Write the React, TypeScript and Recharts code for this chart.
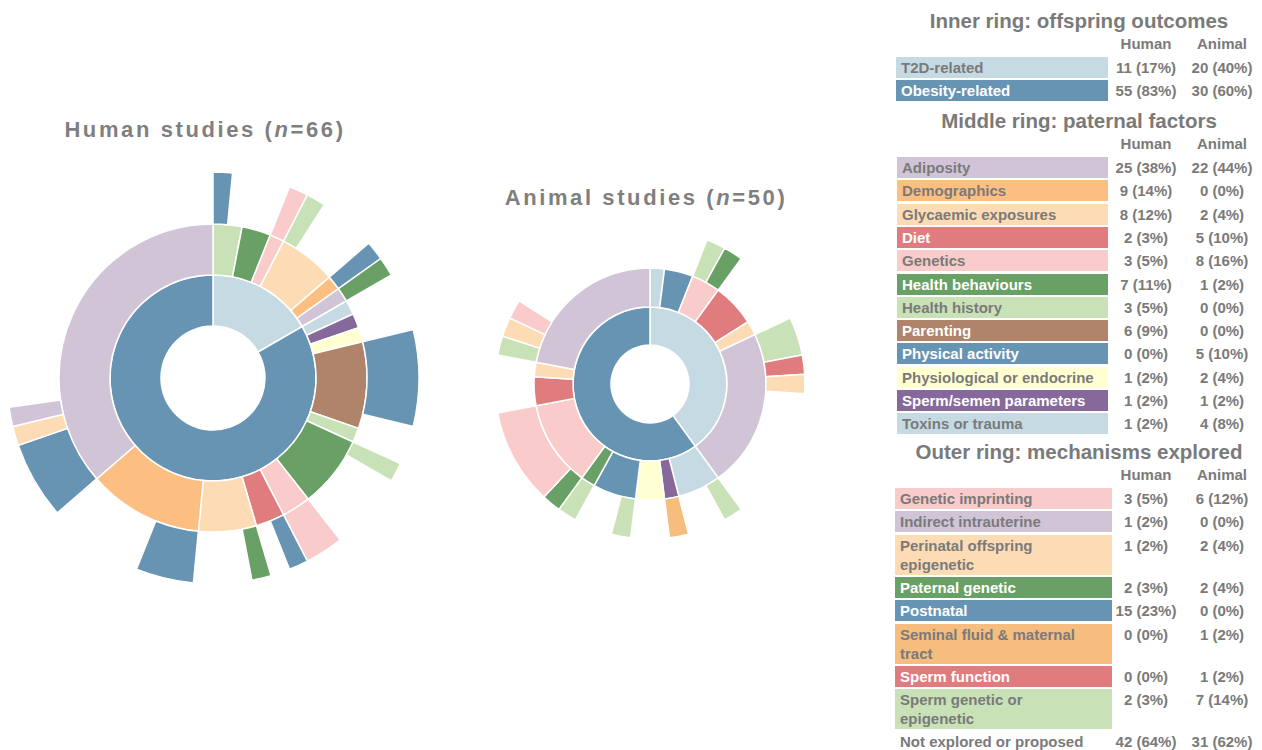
import React from 'react';
import { PieChart, Pie, Cell } from 'recharts';

// colours shared by sunburst rings and legend bars
const COLORS: Record<string, string> = {
    'T2D-related': '#c5dae3',
    'Obesity-related': '#6894b4',
    'Adiposity': '#d1c4d7',
    'Demographics': '#fdbf81',
    'Glycaemic exposures': '#fddcb5',
    'Diet': '#e17c7e',
    'Genetics': '#f9cbca',
    'Health behaviours': '#69a065',
    'Health history': '#c9e1b7',
    'Parenting': '#b0836b',
    'Physical activity': '#6894b4',
    'Physiological or endocrine': '#ffffd1',
    'Sperm/semen parameters': '#86699a',
    'Toxins or trauma': '#c5dae3',
    'Genetic imprinting': '#f9cbca',
    'Indirect intrauterine': '#d1c4d7',
    'Perinatal offspring epigenetic': '#fddcb5',
    'Paternal genetic': '#69a065',
    'Postnatal': '#6894b4',
    'Seminal fluid & maternal tract': '#f6bd7f',
    'Sperm function': '#e17c7e',
    'Sperm genetic or epigenetic': '#c9e1b7',
};

const WHITE_TEXT = ['Obesity-related', 'Diet', 'Health behaviours', 'Parenting', 'Physical activity',
    'Sperm/semen parameters', 'Paternal genetic', 'Postnatal', 'Sperm function'];

const NONE = 'Not explored or proposed';
const HUMAN_N = 66;
const ANIMAL_N = 50;

// ---- legend tables ----
const outcomes = ['T2D-related', 'Obesity-related'];
const humanOutcomeCounts = [11, 55];
const animalOutcomeCounts = [20, 30];

const factors = ['Adiposity', 'Demographics', 'Glycaemic exposures', 'Diet', 'Genetics', 'Health behaviours',
    'Health history', 'Parenting', 'Physical activity', 'Physiological or endocrine', 'Sperm/semen parameters',
    'Toxins or trauma'];
const humanFactorCounts = [25, 9, 8, 2, 3, 7, 3, 6, 0, 1, 1, 1];
const animalFactorCounts = [22, 0, 2, 5, 8, 1, 0, 0, 5, 2, 1, 4];

const mechanisms = ['Genetic imprinting', 'Indirect intrauterine', 'Perinatal offspring\nepigenetic',
    'Paternal genetic', 'Postnatal', 'Seminal fluid & maternal\ntract', 'Sperm function',
    'Sperm genetic or\nepigenetic'];
const humanMechanismCounts = [3, 1, 1, 2, 15, 0, 0, 2];
const animalMechanismCounts = [6, 0, 2, 2, 0, 1, 1, 7];
const humanNotExplored = 42;
const animalNotExplored = 31;

// ---- sunburst segments, clockwise from 12 o'clock (one unit = one study) ----
const humanMiddle: [string, number][] = [
    ['Health history', 2], ['Health behaviours', 2], ['Genetics', 1], ['Glycaemic exposures', 4],
    ['Demographics', 1], ['Adiposity', 1],
    ['Toxins or trauma', 1], ['Sperm/semen parameters', 1], ['Physiological or endocrine', 1], ['Parenting', 6],
    ['Health history', 1], ['Health behaviours', 5], ['Genetics', 2], ['Diet', 2], ['Glycaemic exposures', 4],
    ['Demographics', 8], ['Adiposity', 24],
];
const humanOuter: [string, number][] = [
    ['Postnatal', 1], [NONE, 3], ['Genetic imprinting', 1], ['Sperm genetic or epigenetic', 1], [NONE, 3],
    ['Postnatal', 1], ['Paternal genetic', 1], [NONE, 3], ['Postnatal', 5], [NONE, 2],
    ['Sperm genetic or epigenetic', 1], [NONE, 4], ['Genetic imprinting', 2], ['Postnatal', 1], [NONE, 1],
    ['Paternal genetic', 1], [NONE, 3], ['Postnatal', 3], [NONE, 5], ['Postnatal', 4],
    ['Perinatal offspring epigenetic', 1], ['Indirect intrauterine', 1], [NONE, 18],
];

const animalMiddle: [string, number][] = [
    ['Toxins or trauma', 1], ['Physical activity', 2], ['Genetics', 2], ['Diet', 3], ['Glycaemic exposures', 1],
    ['Adiposity', 11],
    ['Toxins or trauma', 3], ['Sperm/semen parameters', 1], ['Physiological or endocrine', 2],
    ['Physical activity', 3], ['Health behaviours', 1], ['Genetics', 6], ['Diet', 2], ['Glycaemic exposures', 1],
    ['Adiposity', 11],
];
const animalOuter: [string, number][] = [
    [NONE, 3], ['Sperm genetic or epigenetic', 1], ['Paternal genetic', 1], [NONE, 4],
    ['Sperm genetic or epigenetic', 2], ['Sperm function', 1], ['Perinatal offspring epigenetic', 1], [NONE, 7],
    ['Sperm genetic or epigenetic', 1], [NONE, 2], ['Seminal fluid & maternal tract', 1], [NONE, 2],
    ['Sperm genetic or epigenetic', 1], [NONE, 2], ['Sperm genetic or epigenetic', 1], ['Paternal genetic', 1],
    ['Genetic imprinting', 5], [NONE, 3], ['Sperm genetic or epigenetic', 1], ['Perinatal offspring epigenetic', 1],
    ['Genetic imprinting', 1], [NONE, 8],
];

const FONT = '"Liberation Sans", Arial, Helvetica, sans-serif';
const GRAY = '#7a7a7a';

const toRows = (pairs: [string, number][]) => pairs.map(([name, value]) => ({ name, value }));

const ring = (key: string, pairs: [string, number][], cx: number, cy: number, r0: number, r1: number) => {
    const data = toRows(pairs);
    return (
        <Pie
            key={key}
            data={data}
            dataKey="value"
            cx={cx}
            cy={cy}
            innerRadius={r0}
            outerRadius={r1}
            startAngle={90}
            endAngle={-270}
            stroke="#fff"
            strokeWidth={1.5}
            isAnimationActive={false}
        >
            {data.map((d, i) => d.name === NONE
                ? <Cell key={i} fill="transparent" stroke="none" />
                : <Cell key={i} fill={COLORS[d.name]} />)}
        </Pie>
    );
};

const pct = (v: number, n: number) => `${v} (${Math.round((v / n) * 100)}%)`;

const valueStyle = (center: number, top: number): React.CSSProperties => ({
    position: 'absolute', left: center - 45, width: 90, top, textAlign: 'center',
    fontSize: 15, fontWeight: 'bold', color: GRAY, lineHeight: '21px', whiteSpace: 'nowrap',
});

const Section = ({ title, top, labels, human, animal, barLeft, barWidth }: {
    title: string; top: number; labels: string[]; human: number[]; animal: number[];
    barLeft: number; barWidth: number;
}) => {
    let y = top + 48;
    return (
        <>
            <div style={{ position: 'absolute', left: 896, width: 366, top, textAlign: 'center', fontSize: 20.5,
                fontWeight: 'bold', color: GRAY, lineHeight: '24px', whiteSpace: 'nowrap' }}>{title}</div>
            <div style={{ ...valueStyle(1146, top + 26), lineHeight: '18px' }}>Human</div>
            <div style={{ ...valueStyle(1222, top + 26), lineHeight: '18px' }}>Animal</div>
            {labels.map((label, i) => {
                const name = label.replace('\n', ' ');
                const lines = label.split('\n').length;
                const h = lines === 2 ? 40 : 21;
                const rowTop = y;
                y += h + 2.3;
                return (
                    <React.Fragment key={label}>
                        <div style={{ position: 'absolute', left: barLeft, width: barWidth, top: rowTop, height: h,
                            background: COLORS[name], color: WHITE_TEXT.includes(name) ? '#fff' : GRAY,
                            fontSize: 15, fontWeight: 'bold', lineHeight: lines === 2 ? '19px' : '21px',
                            paddingLeft: 5, paddingTop: lines === 2 ? 1 : 0, boxSizing: 'border-box',
                            whiteSpace: 'pre' }}>{label}</div>
                        <div style={valueStyle(1146, rowTop)}>{pct(human[i], HUMAN_N)}</div>
                        <div style={valueStyle(1222, rowTop)}>{pct(animal[i], ANIMAL_N)}</div>
                    </React.Fragment>
                );
            })}
        </>
    );
};

const titleStyle = (center: number, top: number): React.CSSProperties => ({
    position: 'absolute', left: center - 200, width: 400, top, textAlign: 'center', fontSize: 22,
    fontWeight: 'bold', color: '#7f7f7f', letterSpacing: 2.6, lineHeight: '26px', whiteSpace: 'nowrap',
});

const App: React.FC = () => {
    return (
        <div style={{ position: 'absolute', left: 0, top: 0, width: 1262, height: 750, background: '#fff',
            fontFamily: FONT, overflow: 'hidden' }}>
            <div style={{ position: 'absolute', left: 0, top: 0 }}>
                <PieChart width={870} height={750} margin={{ top: 0, right: 0, bottom: 0, left: 0 }}>
                    {ring('hi', outcomes.map((o, i) => [o, humanOutcomeCounts[i]] as [string, number]), 213, 378, 52, 103)}
                    {ring('hm', humanMiddle, 213, 378, 103, 154)}
                    {ring('ho', humanOuter, 213, 378, 154, 206)}
                    {ring('ai', outcomes.map((o, i) => [o, animalOutcomeCounts[i]] as [string, number]), 650, 384, 39, 77)}
                    {ring('am', animalMiddle, 650, 384, 77, 116)}
                    {ring('ao', animalOuter, 650, 384, 116, 155)}
                </PieChart>
            </div>
            <div style={titleStyle(205, 117)}>Human studies (<i>n</i>={HUMAN_N})</div>
            <div style={titleStyle(646, 185)}>Animal studies (<i>n</i>={ANIMAL_N})</div>

            <Section title="Inner ring: offspring outcomes" top={9} labels={outcomes}
                human={humanOutcomeCounts} animal={animalOutcomeCounts} barLeft={896} barWidth={212} />
            <Section title="Middle ring: paternal factors" top={109} labels={factors}
                human={humanFactorCounts} animal={animalFactorCounts} barLeft={897} barWidth={211} />
            <Section title="Outer ring: mechanisms explored" top={440} labels={mechanisms}
                human={humanMechanismCounts} animal={animalMechanismCounts} barLeft={895} barWidth={217} />
            <div style={{ position: 'absolute', left: 900, top: 731, fontSize: 15, fontWeight: 'bold', color: GRAY,
                lineHeight: '21px', whiteSpace: 'nowrap' }}>{NONE}</div>
            <div style={valueStyle(1146, 731)}>{pct(humanNotExplored, HUMAN_N)}</div>
            <div style={valueStyle(1222, 731)}>{pct(animalNotExplored, ANIMAL_N)}</div>
        </div>
    );
};

export default App;
